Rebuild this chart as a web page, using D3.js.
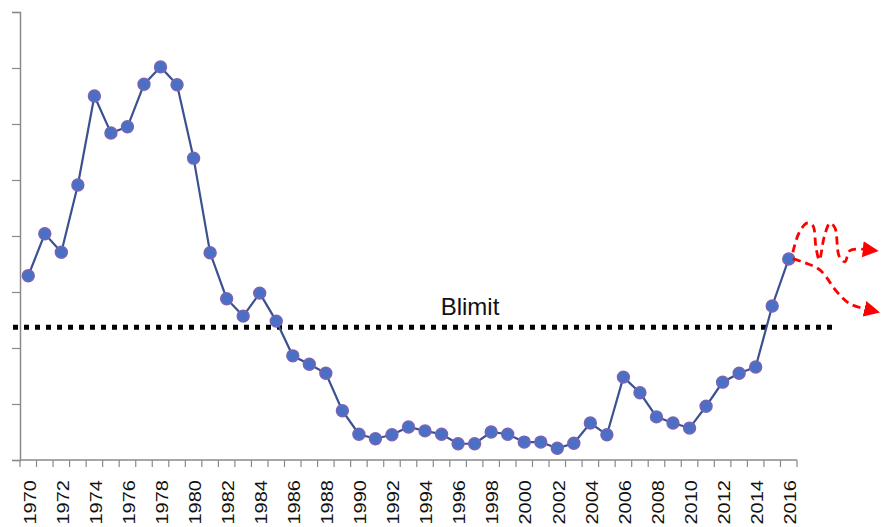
<!DOCTYPE html>
<html>
<head>
<meta charset="utf-8">
<script src="https://cdn.jsdelivr.net/npm/d3@7"></script>
<style>
  body { margin: 0; background: #fff; }
  svg { display: block; font-family: "Liberation Sans", Arial, sans-serif; }
</style>
</head>
<body>
<svg id="chart" width="883" height="527"></svg>
<script>
// years on the category axis
var years = d3.range(1970, 2017);

// stock index (y tick units, 0..8)
var stock = [3.29, 4.04, 3.71, 4.91, 6.50, 5.84, 5.95, 6.71, 7.02, 6.70,
             5.39, 3.70, 2.88, 2.57, 2.98, 2.48, 1.86, 1.71, 1.55, 0.88,
             0.46, 0.38, 0.45, 0.59, 0.52, 0.46, 0.29, 0.29, 0.50, 0.46,
             0.32, 0.32, 0.21, 0.30, 0.66, 0.45, 1.48, 1.20, 0.77, 0.66,
             0.57, 0.96, 1.39, 1.55, 1.66, 2.75, 3.59];

var blimit = 2.37;
var yTicks = d3.range(0, 9);
var xLabels = years.filter(function(d) { return d % 2 === 0; });

// projection scenarios drawn after the last year (offsets in years / units)
var scenarioUp = [[0.25, 0.12], [0.6, 0.45], [1.1, 0.64], [1.45, 0.6], [1.65, 0.2],
                  [1.85, -0.02], [2.15, 0.4], [2.5, 0.64], [2.8, 0.55], [3.05, 0.05],
                  [3.4, -0.05], [3.7, 0.15], [4.6, 0.17]];
var scenarioDown = [[0.25, 0.0], [1.0, -0.07], [1.9, -0.2], [2.95, -0.6], [3.7, -0.8], [4.7, -0.9]];

var svg = d3.select("#chart");
var plotLeft = 20, plotRight = 797, plotTop = 12, plotBottom = 460;

var x = d3.scaleBand().domain(years).range([plotLeft, plotRight]);
var y = d3.scaleLinear().domain([0, 8]).range([plotBottom, plotTop]);
var cx = function(d) { return x(d) + x.bandwidth() / 2; };

// y axis, no labels
svg.append("g")
    .attr("transform", "translate(" + plotLeft + ",0)")
    .call(d3.axisLeft(y).tickValues(yTicks).tickSize(8).tickFormat(""))
    .call(function(g) {
        g.select(".domain").attr("stroke", "#8a8a8a").attr("stroke-width", 1.5);
        g.selectAll(".tick line").attr("stroke", "#8a8a8a").attr("stroke-width", 1.2);
    });

// x axis: ticks between categories
var xAxis = svg.append("g").attr("transform", "translate(0," + plotBottom + ")");
xAxis.append("line")
    .attr("x1", plotLeft).attr("x2", plotRight)
    .attr("stroke", "#8a8a8a").attr("stroke-width", 1.5);
xAxis.selectAll(".xt")
    .data(years.concat([2017]))
    .enter().append("line")
    .attr("class", "xt")
    .attr("x1", function(d) { return d === 2017 ? plotRight : x(d); })
    .attr("x2", function(d) { return d === 2017 ? plotRight : x(d); })
    .attr("y1", 0).attr("y2", 7)
    .attr("stroke", "#8a8a8a").attr("stroke-width", 1.2);

xAxis.selectAll(".xl")
    .data(xLabels)
    .enter().append("text")
    .attr("class", "xl")
    .attr("transform", function(d) {
        return "translate(" + (cx(d) + 1.5) + ",20) rotate(-90) scale(1.25,1)";
    })
    .attr("text-anchor", "end")
    .attr("dy", "0.36em")
    .attr("font-size", "16px")
    .attr("fill", "#111")
    .text(function(d) { return d; });

// Blimit reference line
svg.append("line")
    .attr("x1", 13).attr("x2", 836)
    .attr("y1", y(blimit)).attr("y2", y(blimit))
    .attr("stroke", "#000")
    .attr("stroke-width", 5)
    .attr("stroke-dasharray", "5,6");

svg.append("text")
    .attr("x", 470).attr("y", y(blimit) - 12)
    .attr("text-anchor", "middle")
    .attr("font-size", "24px")
    .attr("fill", "#111")
    .text("Blimit");

// series line
var pts = years.map(function(d, i) { return [cx(d), y(stock[i])]; });

svg.append("path")
    .attr("d", d3.line()(pts))
    .attr("fill", "none")
    .attr("stroke", "#3c5190")
    .attr("stroke-width", 2.2);

svg.selectAll(".dot")
    .data(pts)
    .enter().append("circle")
    .attr("class", "dot")
    .attr("cx", function(d) { return d[0]; })
    .attr("cy", function(d) { return d[1]; })
    .attr("r", 6)
    .attr("fill", "#4a70c6")
    .attr("stroke", "#7d62b3")
    .attr("stroke-width", 1.4);

// red dashed projection arrows
svg.append("defs").append("marker")
    .attr("id", "arrow")
    .attr("markerUnits", "userSpaceOnUse")
    .attr("viewBox", "0 0 16 16")
    .attr("refX", 2).attr("refY", 8)
    .attr("markerWidth", 16).attr("markerHeight", 16)
    .attr("orient", "auto")
    .append("path")
    .attr("d", "M0,0L16,8L0,16Z")
    .attr("fill", "#ff0000");

var lastX = cx(2016), lastV = stock[stock.length - 1];
var step = x.bandwidth();
var arrowLine = d3.line()
    .x(function(d) { return lastX + d[0] * step; })
    .y(function(d) { return y(lastV + d[1]); })
    .curve(d3.curveCatmullRom);

[scenarioUp, scenarioDown].forEach(function(s) {
    svg.append("path")
        .attr("d", arrowLine(s))
        .attr("fill", "none")
        .attr("stroke", "#ff0000")
        .attr("stroke-width", 2.8)
        .attr("stroke-dasharray", "8,5")
        .attr("marker-end", "url(#arrow)");
});
</script>
</body>
</html>
